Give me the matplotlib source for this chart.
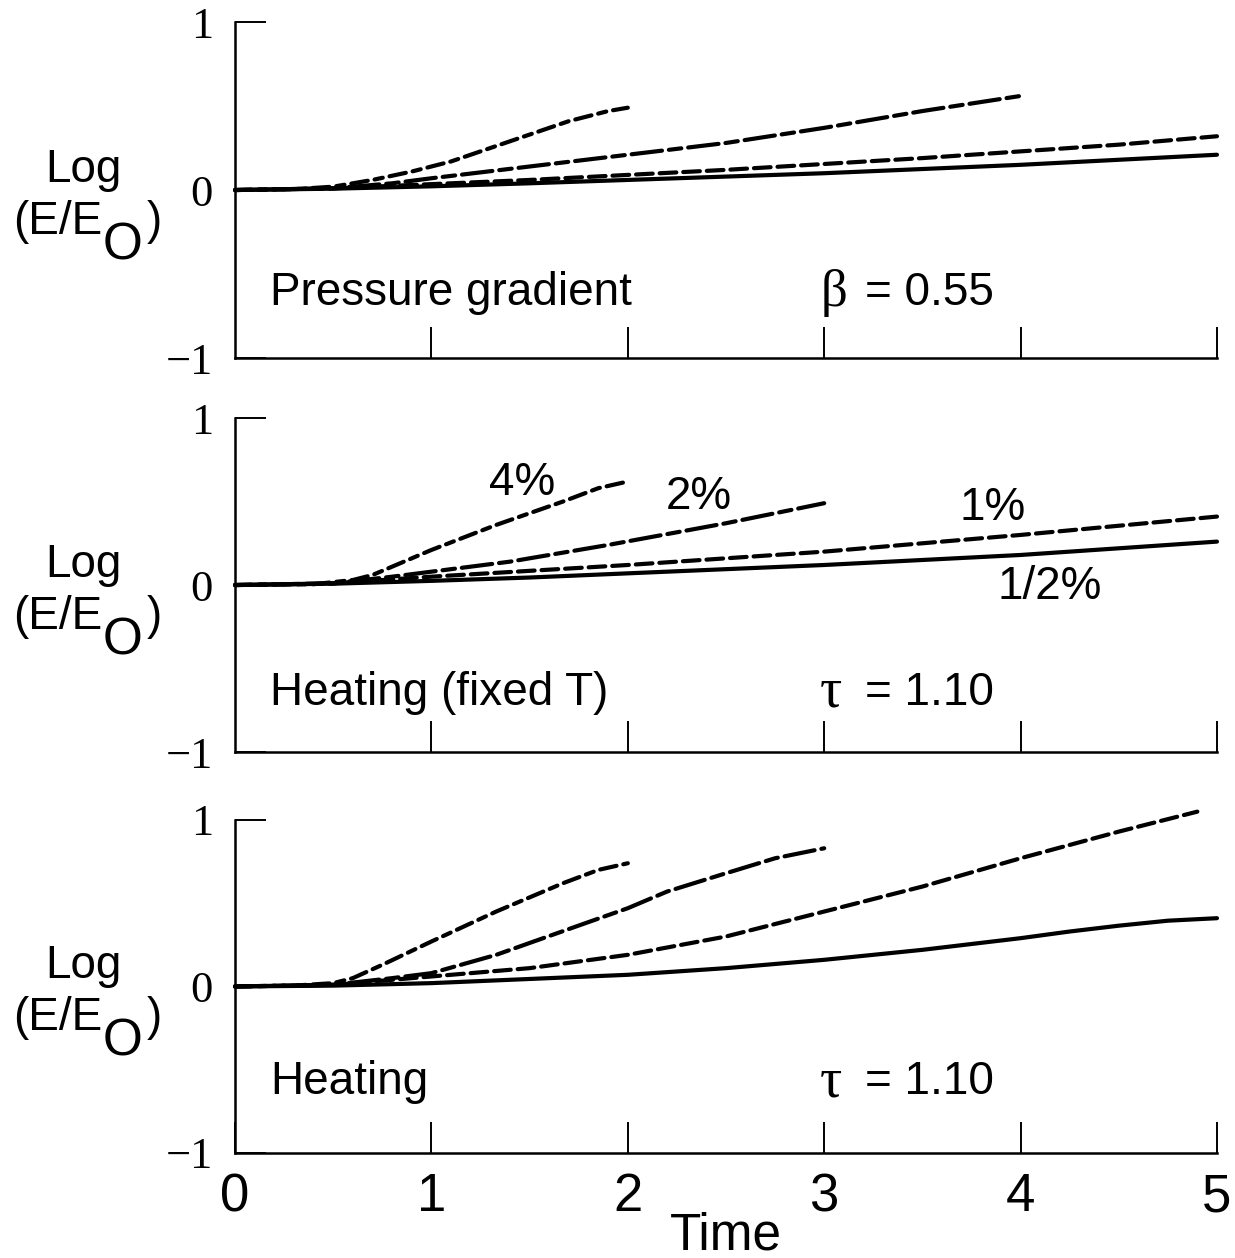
import matplotlib
matplotlib.use('Agg')
import matplotlib.pyplot as plt

plt.rcParams['font.family'] = ['Liberation Sans', 'DejaVu Sans']
plt.rcParams['lines.scale_dashes'] = False

x_ticks = [1, 2, 3, 4, 5]
x_tick_labels = ['0', '1', '2', '3', '4', '5']
y_ticks = [-1, 0, 1]
y_tick_labels = ['\u22121', '0', '1']
panel_titles = ['Pressure gradient', 'Heating (fixed T)', 'Heating']
param_symbols = ['\u03b2', '\u03c4', '\u03c4']
param_values = ['= 0.55', '= 1.10', '= 1.10']
curve_names = ['1/2%', '1%', '2%', '4%']

# panel 1 - pressure gradient
p1_half_t = [0, 0.5, 1, 1.5, 2, 2.5, 3, 3.5, 4, 4.5, 5]
p1_half_y = [0, 0.008, 0.022, 0.04, 0.06, 0.08, 0.10, 0.125, 0.15, 0.18, 0.21]
p1_one_t = [0, 0.5, 1, 1.5, 2, 2.5, 3, 3.5, 4, 4.5, 5]
p1_one_y = [0, 0.01, 0.035, 0.06, 0.09, 0.12, 0.155, 0.19, 0.23, 0.27, 0.32]
p1_two_t = [0, 0.5, 0.8, 1.0, 1.5, 2.0, 2.5, 3.0, 3.5, 4.0]
p1_two_y = [0, 0.01, 0.04, 0.07, 0.14, 0.21, 0.28, 0.37, 0.47, 0.56]
p1_four_t = [0, 0.3, 0.5, 0.7, 0.9, 1.1, 1.3, 1.5, 1.7, 1.9, 2.0]
p1_four_y = [0, 0.005, 0.02, 0.06, 0.11, 0.17, 0.25, 0.33, 0.41, 0.47, 0.49]

# panel 2 - heating, fixed T
p2_half_t = [0, 0.5, 1, 1.5, 2, 2.5, 3, 3.5, 4, 4.5, 5]
p2_half_y = [0, 0.008, 0.025, 0.045, 0.07, 0.095, 0.12, 0.15, 0.18, 0.22, 0.26]
p2_one_t = [0, 0.5, 1, 1.5, 2, 2.5, 3, 3.5, 4, 4.5, 5]
p2_one_y = [0, 0.01, 0.05, 0.085, 0.12, 0.16, 0.20, 0.25, 0.30, 0.355, 0.41]
p2_two_t = [0, 0.5, 0.8, 1.0, 1.4, 1.9, 2.5, 3.0]
p2_two_y = [0, 0.01, 0.05, 0.08, 0.14, 0.24, 0.37, 0.49]
p2_four_t = [0, 0.4, 0.6, 0.7, 1.0, 1.33, 1.67, 1.85, 2.0]
p2_four_y = [0, 0.005, 0.03, 0.06, 0.21, 0.36, 0.50, 0.58, 0.62]

# panel 3 - heating
p3_half_t = [0, 0.5, 1, 1.5, 2, 2.5, 3, 3.5, 4, 4.25, 4.5, 4.75, 5]
p3_half_y = [0, 0.005, 0.02, 0.045, 0.07, 0.11, 0.16, 0.22, 0.29, 0.33, 0.365, 0.395, 0.41]
p3_one_t = [0, 0.5, 1, 1.5, 2, 2.5, 3, 3.5, 4, 4.5, 4.9]
p3_one_y = [0, 0.01, 0.06, 0.11, 0.19, 0.30, 0.45, 0.60, 0.77, 0.93, 1.05]
p3_two_t = [0, 0.5, 0.8, 1.0, 1.33, 1.76, 2.0, 2.2, 2.5, 2.75, 3.0]
p3_two_y = [0, 0.01, 0.05, 0.08, 0.19, 0.37, 0.47, 0.57, 0.68, 0.77, 0.83]
p3_four_t = [0, 0.3, 0.5, 0.6, 0.75, 1.0, 1.33, 1.67, 1.85, 2.0]
p3_four_y = [0, 0.005, 0.02, 0.05, 0.13, 0.27, 0.45, 0.62, 0.70, 0.74]

# labels on the middle panel: text, t, y
p2_curve_labels = ['4%', '2%', '1%', '1/2%']
p2_label_t = [1.46, 2.36, 3.86, 4.15]
p2_label_y = [0.61, 0.53, 0.46, -0.01]

panels = [
    [(p1_half_t, p1_half_y), (p1_one_t, p1_one_y), (p1_two_t, p1_two_y), (p1_four_t, p1_four_y)],
    [(p2_half_t, p2_half_y), (p2_one_t, p2_one_y), (p2_two_t, p2_two_y), (p2_four_t, p2_four_y)],
    [(p3_half_t, p3_half_y), (p3_one_t, p3_one_y), (p3_two_t, p3_two_y), (p3_four_t, p3_four_y)],
]

styles = {
    '1/2%': '-',
    '1%': (0, (12, 5)),
    '2%': (0, (22, 5, 9, 5)),
    '4%': (0, (12, 5, 6, 5)),
}

fig = plt.figure(figsize=(12.35, 12.58), dpi=100)
rects = [
    [0.1903, 0.7154, 0.7951, 0.2671],
    [0.1903, 0.4022, 0.7951, 0.2655],
    [0.1903, 0.0835, 0.7951, 0.2647],
]

FS = 33
for i, rect in enumerate(rects):
    ax = fig.add_axes(rect)
    for name, (t, y) in zip(curve_names, panels[i]):
        ax.plot(t, y, color='black', lw=3.0, linestyle=styles[name],
                solid_capstyle='round', dash_capstyle='round', clip_on=False)
    ax.set_xlim(0, 5)
    ax.set_ylim(-1, 1)
    for s in ['top', 'right']:
        ax.spines[s].set_visible(False)
    for s in ['left', 'bottom']:
        ax.spines[s].set_linewidth(1.8)
    ax.set_xticks(x_ticks)
    ax.set_yticks(y_ticks)
    ax.set_yticklabels(y_tick_labels, family='Liberation Serif', fontsize=32)
    ax.tick_params(axis='both', direction='in', length=22, width=1.4, color='black')
    ax.tick_params(axis='y', pad=16)
    if i < 2:
        ax.set_xticklabels([])
    else:
        ax.set_xticks([0] + x_ticks)
        ax.set_xticklabels(x_tick_labels, fontsize=38)
        ax.tick_params(axis='x', pad=14)
        ax.set_xlabel('Time', fontsize=37, labelpad=-8)

    ty = [-0.61, -0.645, -0.575][i]
    ax.text(0.18, ty, panel_titles[i], fontsize=FS, ha='left', va='center')
    sym_size = 38 if i == 0 else 40
    ax.text(2.98, ty, param_symbols[i], fontsize=sym_size, ha='left', va='center',
            family='Liberation Serif')
    ax.text(3.21, ty, param_values[i], fontsize=FS, ha='left', va='center')

    # y label: Log (E/E_O)
    ax.text(-0.77, 0.12, 'Log', fontsize=FS, ha='center', va='center')
    t1 = ax.text(-1.13, -0.19, '(E/E', fontsize=FS, ha='left', va='center')
    t2 = ax.annotate('O', xy=(1, 0), xycoords=t1, xytext=(0, -19),
                     textcoords='offset points', fontsize=37, ha='left', va='bottom')
    ax.annotate(')', xy=(1, 0), xycoords=(t2, t1), xytext=(3, 0),
                textcoords='offset points', fontsize=FS, ha='left', va='bottom')

    if i == 1:
        for lab, lt, ly in zip(p2_curve_labels, p2_label_t, p2_label_y):
            ax.text(lt, ly, lab, fontsize=FS, ha='center', va='center')

fig.savefig('out.png', dpi=100, facecolor='white')
